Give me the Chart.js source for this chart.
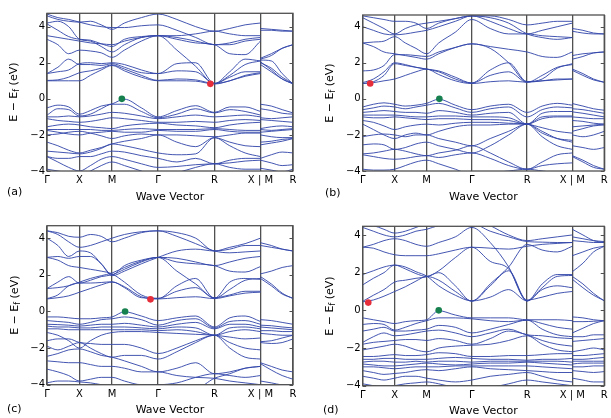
<!DOCTYPE html>
<html>
<head>
<meta charset="utf-8">
<script src="https://cdn.jsdelivr.net/npm/chart.js@4.4.1/dist/chart.umd.min.js"></script>
<style>
    html, body { margin: 0; padding: 0; background: #fff; }
    #wrap { position: relative; width: 611px; height: 418px; }
    #wrap canvas { position: absolute; left: 0; top: 0; }
</style>
</head>
<body>
<div id="wrap">
    <canvas id="panel_a" width="611" height="418"></canvas>
    <canvas id="panel_b" width="611" height="418"></canvas>
    <canvas id="panel_c" width="611" height="418"></canvas>
    <canvas id="panel_d" width="611" height="418"></canvas>
</div>
<script>
// K-PATH: Γ X M Γ R X | M R (sample points along the path)
const kPts = [0, 0.1667, 0.3333, 0.5, 0.6667, 0.8333, 1.0, 1.19, 1.45, 1.7071, 1.9958, 2.2845, 2.5731, 2.8088, 3.0445, 3.2802, 3.2802, 3.4469, 3.6135, 3.7802];
const kTicks = [0, 0.5, 1.0, 1.7071, 2.5731, 3.2802, 3.7802];
const kLabels = ['Γ', 'X', 'M', 'Γ', 'R', 'X | M', 'R'];
const yTicks = [-4, -2, 0, 2, 4];

// BANDS (eV), one row per band, values at kPts
const bandsA = [
    [1.00,1.00,1.00,1.00,1.30,1.60,1.85,1.55,1.20,1.00,1.00,0.98,0.82,1.00,1.25,1.40, 1.90,1.50,1.10,0.82],
    [1.02,1.05,1.20,1.45,1.55,1.70,1.88,1.65,1.30,1.02,1.10,1.05,0.85,1.30,1.90,2.10, 2.00,1.70,1.20,0.85],
    [1.40,1.75,2.20,1.90,1.90,1.85,1.95,1.75,1.45,1.40,1.55,1.50,0.85,1.00,1.30,1.45, 2.20,2.40,2.80,3.00],
    [1.40,1.50,1.60,1.95,2.00,1.95,2.00,1.90,1.60,1.40,1.95,2.00,0.85,1.50,2.20,2.10, 2.15,2.10,1.40,0.82],
    [3.30,3.00,2.50,2.70,2.65,2.55,2.30,2.70,3.20,3.50,2.70,1.80,0.85,1.20,1.50,1.50, 3.80,3.80,3.75,3.75],
    [3.50,3.40,3.30,3.20,3.10,3.05,3.00,3.20,3.40,3.50,3.30,3.10,3.00,2.50,2.45,3.20, 2.25,2.50,2.80,3.00],
    [4.15,3.80,3.45,3.30,3.25,3.05,2.90,3.30,3.45,3.50,3.50,3.60,3.75,3.60,3.50,3.50, 3.90,3.85,3.80,3.75],
    [4.60,4.40,4.30,4.25,4.30,4.10,3.85,4.20,4.50,4.70,4.40,4.00,3.75,3.90,4.10,4.20, 4.90,4.90,4.90,4.90],
    [4.70,4.50,4.40,4.25,4.10,4.00,3.95,3.95,4.05,4.10,3.80,3.40,3.00,3.10,3.30,3.40, 5.00,5.00,5.00,5.00],
    [4.20,4.30,4.00,3.30,3.20,2.90,2.60,3.00,3.40,3.50,3.40,3.20,3.00,3.00,3.20,3.30, 2.05,1.60,1.10,0.85],
    [-0.50,-0.35,-0.45,-0.85,-0.65,-0.40,-0.28,-0.02,-0.50,-1.00,-0.65,-0.38,-0.75,-0.45,-0.45,-0.70, -0.30,-0.40,-0.60,-0.78],
    [-0.90,-0.55,-0.60,-0.95,-0.85,-0.55,-0.30,-0.30,-0.70,-1.05,-0.85,-0.55,-0.78,-0.60,-0.70,-0.90, -0.55,-0.65,-0.80,-0.85],
    [-1.00,-1.00,-0.95,-1.00,-0.95,-0.85,-0.75,-0.80,-0.95,-1.10,-1.00,-0.90,-1.00,-0.95,-0.90,-1.00, -1.05,-1.10,-1.05,-1.00],
    [-1.10,-1.20,-1.25,-1.30,-1.25,-1.15,-1.05,-1.10,-1.20,-1.30,-1.30,-1.25,-1.30,-1.20,-1.15,-1.20, -1.15,-1.20,-1.25,-1.30],
    [-1.55,-1.45,-1.40,-1.45,-1.55,-1.60,-1.65,-1.50,-1.40,-1.35,-1.45,-1.50,-1.60,-1.45,-1.35,-1.30, -1.65,-1.55,-1.50,-1.55],
    [-1.70,-1.70,-1.70,-1.70,-1.70,-1.75,-1.75,-1.70,-1.65,-1.70,-1.70,-1.70,-1.65,-1.70,-1.75,-1.75, -1.70,-1.75,-1.70,-1.65],
    [-1.75,-1.85,-1.95,-2.00,-1.90,-1.85,-1.80,-1.85,-1.85,-1.75,-1.80,-1.80,-1.70,-1.80,-1.85,-1.85, -1.85,-1.80,-1.75,-1.70],
    [-2.00,-1.95,-1.85,-1.80,-1.90,-2.05,-2.20,-2.05,-1.95,-2.00,-2.00,-2.05,-2.10,-2.00,-1.90,-1.90, -2.00,-2.10,-2.15,-2.15],
    [-2.40,-2.60,-2.85,-3.00,-2.85,-2.70,-2.50,-2.35,-2.20,-2.00,-2.40,-2.65,-2.15,-2.40,-2.60,-2.65, -2.40,-2.35,-2.25,-2.20],
    [-2.90,-2.95,-3.00,-3.05,-2.95,-2.75,-2.50,-2.60,-2.80,-3.00,-3.10,-3.05,-2.15,-2.60,-3.00,-3.20, -2.55,-2.45,-2.35,-2.20],
    [-3.20,-3.30,-3.30,-3.20,-3.20,-3.05,-2.90,-2.95,-3.15,-3.30,-3.50,-3.30,-3.60,-3.40,-3.30,-3.30, -3.30,-3.10,-2.95,-3.00],
    [-3.20,-3.50,-3.80,-4.00,-3.70,-3.35,-3.20,-3.35,-3.60,-3.80,-3.75,-3.65,-3.60,-3.55,-3.45,-3.40, -3.40,-3.55,-3.70,-3.65],
    [-3.90,-4.00,-4.10,-4.20,-4.00,-3.70,-3.50,-3.70,-4.00,-4.30,-4.10,-3.80,-3.60,-3.80,-3.90,-3.90, -3.85,-3.95,-4.05,-3.90]
];

const bandsB = [
    [0.85,0.90,1.00,1.10,1.30,1.50,1.65,1.35,1.00,0.85,0.95,1.00,0.92,1.00,1.05,1.10, 1.65,1.40,1.10,0.92],
    [0.85,0.95,1.30,1.95,1.85,1.75,1.65,1.55,1.20,0.88,1.30,1.50,0.92,1.30,1.75,1.90, 1.58,1.30,1.05,0.92],
    [0.90,1.10,1.50,2.00,1.90,1.75,1.65,1.50,1.10,0.88,1.60,2.00,0.95,1.10,1.70,1.95, 2.20,2.35,2.55,2.60],
    [1.55,1.60,1.85,2.45,2.45,2.40,2.35,2.60,2.85,3.05,2.80,2.00,0.95,1.00,1.10,1.10, 2.40,2.50,2.55,2.60],
    [3.10,2.90,2.60,2.50,2.40,2.30,2.20,2.50,2.85,3.05,2.90,2.75,2.60,2.35,2.30,2.60, 3.75,3.65,3.60,3.60],
    [3.10,3.15,3.20,3.45,3.10,2.80,2.50,3.10,3.70,4.40,3.90,3.60,3.60,3.50,3.45,3.40, 3.90,3.80,3.65,3.60],
    [4.00,3.80,3.60,3.55,3.60,3.70,3.80,4.00,4.30,4.60,4.30,3.90,3.60,3.80,4.00,4.20, 4.80,4.80,4.80,4.80],
    [4.60,4.50,4.40,4.30,4.30,4.20,3.90,4.20,4.45,4.60,4.50,4.20,3.60,3.40,3.30,3.40, 5.00,5.00,5.00,5.00],
    [4.50,4.20,3.90,3.60,3.90,4.10,4.20,4.30,4.45,4.60,4.60,4.40,4.10,4.20,4.30,4.30, 5.00,5.00,5.00,5.00],
    [-0.45,-0.30,-0.22,-0.30,-0.40,-0.35,-0.25,-0.02,-0.35,-0.60,-0.40,-0.30,-0.75,-0.40,-0.25,-0.35, -0.26,-0.40,-0.55,-0.63],
    [-0.60,-0.50,-0.40,-0.45,-0.55,-0.45,-0.35,-0.25,-0.50,-0.75,-0.55,-0.45,-1.00,-0.60,-0.45,-0.50, -0.55,-0.60,-0.70,-0.80],
    [-0.75,-0.70,-0.65,-0.70,-0.75,-0.75,-0.80,-0.65,-0.75,-0.90,-0.80,-0.75,-1.40,-0.80,-0.70,-0.70, -0.72,-0.80,-0.90,-1.00],
    [-0.90,-0.90,-0.90,-0.90,-0.95,-1.00,-1.00,-0.95,-0.95,-1.00,-1.00,-1.05,-1.40,-1.00,-0.95,-0.95, -1.00,-1.05,-1.10,-1.10],
    [-1.00,-1.05,-1.05,-1.00,-1.05,-1.10,-1.15,-1.10,-1.10,-1.15,-1.15,-1.20,-1.40,-1.10,-1.00,-1.00, -1.20,-1.25,-1.35,-1.40],
    [-1.20,-1.30,-1.50,-1.70,-1.55,-1.45,-1.40,-1.45,-1.35,-1.30,-1.30,-1.35,-1.40,-1.60,-1.80,-1.90, -1.55,-1.50,-1.45,-1.40],
    [-1.40,-1.70,-2.00,-2.20,-2.00,-1.90,-2.00,-1.80,-1.55,-1.45,-1.45,-1.40,-1.40,-1.90,-2.20,-2.30, -1.80,-1.65,-1.50,-1.45],
    [-2.10,-2.00,-1.95,-2.00,-2.10,-2.00,-2.00,-2.20,-2.40,-2.60,-2.20,-1.80,-1.40,-2.10,-2.60,-2.80, -2.00,-2.10,-2.00,-1.80],
    [-2.55,-2.50,-2.55,-2.80,-2.70,-2.50,-2.40,-2.60,-2.80,-3.00,-2.60,-2.00,-1.40,-1.80,-2.20,-2.40, -2.60,-2.70,-2.80,-2.70],
    [-3.05,-3.00,-2.90,-2.80,-2.90,-3.05,-3.15,-3.00,-2.85,-2.60,-3.00,-3.50,-3.90,-3.50,-3.10,-3.00, -3.15,-3.40,-3.70,-3.90],
    [-3.10,-3.20,-3.30,-3.35,-3.30,-3.20,-3.15,-3.25,-3.10,-3.00,-3.30,-3.70,-3.90,-3.70,-3.60,-3.55, -3.20,-3.50,-3.80,-3.90],
    [-3.90,-3.95,-3.95,-3.90,-3.70,-3.50,-3.40,-3.60,-3.90,-4.20,-4.10,-4.00,-3.90,-4.00,-4.10,-4.20, -4.20,-4.20,-4.20,-4.20]
];

const bandsC = [
    [0.68,0.75,0.85,1.05,1.25,1.45,1.60,1.35,0.80,0.68,0.75,0.80,0.70,0.85,1.00,1.05, 1.90,1.50,1.00,0.70],
    [0.70,0.90,1.40,1.55,1.55,1.58,1.62,1.30,0.75,0.72,1.10,1.30,0.72,1.20,1.70,1.80, 1.80,1.40,0.95,0.72],
    [1.25,1.60,1.90,1.55,1.70,1.90,2.00,2.30,2.70,2.95,2.20,1.50,0.75,0.90,1.10,1.10, 2.05,2.20,2.40,2.50],
    [1.25,1.30,1.40,1.60,1.80,1.95,2.10,2.40,2.75,2.95,2.70,2.60,2.50,2.20,2.15,2.45, 3.75,3.60,3.40,3.30],
    [2.95,2.80,2.50,2.40,2.30,2.20,2.05,1.60,0.90,0.70,1.40,1.80,0.72,1.60,1.80,1.75, 3.60,3.50,3.40,3.30],
    [2.95,3.00,2.90,3.00,3.00,2.60,2.00,2.50,2.80,2.95,2.90,2.70,2.50,2.70,2.90,3.00, 4.90,4.90,4.90,4.90],
    [4.00,3.60,3.00,3.30,3.20,2.60,1.95,2.20,2.60,2.95,3.30,3.40,3.30,3.50,3.70,4.00, 5.00,5.00,5.00,5.00],
    [4.40,4.30,4.10,4.05,4.20,4.10,3.80,4.00,4.30,4.40,4.10,3.70,3.30,3.20,3.25,3.30, 5.00,5.00,5.00,5.00],
    [4.40,4.20,3.80,3.50,3.60,3.80,4.00,4.20,4.35,4.40,4.30,4.00,3.30,3.40,3.60,3.60, 5.00,5.00,5.00,5.00],
    [-0.30,-0.30,-0.35,-0.40,-0.40,-0.35,-0.30,-0.02,-0.25,-0.50,-0.35,-0.25,-0.85,-0.35,-0.25,-0.55, -0.45,-0.50,-0.60,-0.70],
    [-0.50,-0.55,-0.60,-0.70,-0.60,-0.45,-0.40,-0.30,-0.45,-0.75,-0.50,-0.40,-0.90,-0.55,-0.50,-0.70, -0.75,-0.78,-0.85,-0.90],
    [-0.70,-0.72,-0.75,-0.80,-0.75,-0.70,-0.70,-0.65,-0.75,-0.85,-0.70,-0.60,-0.95,-0.70,-0.70,-0.85, -0.85,-0.90,-0.95,-1.00],
    [-0.80,-0.85,-0.85,-0.90,-0.90,-0.85,-0.85,-0.85,-0.90,-0.95,-0.85,-0.90,-1.30,-0.90,-0.85,-0.95, -1.05,-1.05,-1.10,-1.10],
    [-0.95,-0.95,-1.00,-1.00,-1.00,-1.00,-1.00,-1.00,-1.00,-1.05,-1.00,-1.10,-1.30,-1.10,-1.00,-1.10, -1.20,-1.25,-1.30,-1.30],
    [-1.15,-1.30,-1.60,-2.00,-1.60,-1.30,-1.15,-1.10,-1.10,-1.15,-1.20,-1.25,-1.30,-1.40,-1.50,-1.45, -1.65,-1.60,-1.45,-1.30],
    [-1.60,-1.50,-1.50,-1.70,-1.75,-1.80,-1.80,-1.80,-2.00,-2.30,-2.00,-1.60,-1.30,-1.70,-2.00,-2.10, -1.70,-1.75,-1.70,-1.50],
    [-1.90,-2.10,-1.90,-1.70,-2.00,-2.30,-2.50,-2.40,-2.40,-2.60,-2.20,-1.70,-1.30,-2.00,-2.50,-2.60, -2.80,-3.00,-3.20,-3.30],
    [-2.45,-2.30,-2.10,-2.05,-2.20,-2.40,-2.50,-2.70,-3.00,-3.30,-3.10,-2.80,-3.40,-3.30,-3.10,-3.00, -2.85,-3.20,-3.50,-3.70],
    [-2.70,-2.75,-2.80,-2.80,-2.90,-3.00,-3.00,-3.10,-3.30,-3.30,-3.50,-3.60,-3.65,-3.80,-3.90,-4.00, -3.80,-3.90,-4.00,-4.00],
    [-3.15,-3.30,-3.50,-3.80,-3.70,-3.60,-3.60,-3.80,-4.00,-4.00,-3.90,-3.60,-3.40,-3.50,-3.60,-3.50, -4.20,-4.20,-4.20,-4.20],
    [-3.90,-3.80,-3.80,-3.85,-3.90,-4.00,-4.10,-4.20,-4.10,-4.00,-4.10,-4.20,-3.65,-3.40,-3.10,-3.00, -4.30,-4.30,-4.30,-4.30]
];

const bandsD = [
    [0.45,0.55,0.75,1.00,1.25,1.55,1.80,1.60,1.00,0.50,0.70,1.10,0.50,1.10,1.30,1.20, 1.80,1.40,0.90,0.50],
    [0.48,0.80,1.10,1.50,1.60,1.70,1.78,2.00,1.30,0.48,1.30,2.10,0.50,1.40,1.90,1.90, 1.65,1.20,0.80,0.52],
    [1.35,1.70,2.00,2.40,2.20,1.95,1.80,2.10,2.80,3.35,2.60,2.20,0.55,0.70,0.90,1.00, 2.05,2.50,3.10,3.40],
    [1.90,2.10,2.30,2.40,2.30,2.05,1.82,1.30,0.80,0.50,1.40,2.30,3.50,3.20,3.10,3.40, 2.90,3.10,3.30,3.40],
    [3.35,3.30,3.10,2.95,2.90,2.90,2.90,3.00,3.20,3.35,3.30,3.25,3.40,3.50,3.55,3.60, 3.70,3.65,3.60,3.60],
    [3.35,3.50,3.70,3.80,3.70,3.50,3.40,3.60,3.90,4.40,3.60,2.30,0.50,1.20,1.80,1.85, 3.90,3.80,3.70,3.65],
    [4.40,4.20,4.00,3.90,4.00,4.20,4.30,4.50,4.60,4.60,4.20,3.90,3.65,3.62,3.60,3.60, 4.30,4.00,3.70,3.60],
    [4.60,4.50,4.30,4.10,4.20,4.40,4.60,4.80,5.00,5.00,4.50,4.00,3.70,3.80,3.90,4.00, 5.00,5.00,5.00,5.00],
    [-0.40,-0.50,-0.60,-0.70,-0.60,-0.55,-0.50,-0.02,-0.25,-0.40,-0.40,-0.40,-0.50,-0.50,-0.50,-0.55, -0.35,-0.40,-0.50,-0.55],
    [-0.75,-0.70,-0.75,-1.05,-0.90,-0.70,-0.55,-0.40,-0.40,-0.45,-0.55,-0.60,-0.52,-0.70,-0.90,-1.00, -0.60,-0.60,-0.58,-0.55],
    [-1.10,-1.00,-0.90,-1.10,-1.10,-1.05,-1.00,-0.80,-0.90,-1.20,-1.00,-0.75,-0.52,-1.00,-1.30,-1.40, -1.20,-0.95,-0.70,-0.55],
    [-1.70,-1.40,-1.20,-1.35,-1.30,-1.20,-1.10,-1.05,-1.20,-1.40,-1.20,-1.00,-1.30,-1.35,-1.45,-1.50, -1.40,-1.40,-1.30,-1.30],
    [-1.80,-1.70,-1.65,-1.60,-1.55,-1.55,-1.60,-1.50,-1.60,-1.80,-1.50,-1.10,-1.30,-1.60,-1.80,-1.90, -1.65,-1.60,-1.55,-1.50],
    [-2.10,-2.00,-1.90,-1.80,-1.90,-2.10,-2.20,-2.00,-1.90,-1.85,-1.80,-1.60,-1.35,-1.80,-2.10,-2.20, -2.20,-2.10,-2.00,-2.10],
    [-2.45,-2.45,-2.40,-2.35,-2.40,-2.40,-2.35,-2.25,-2.30,-2.45,-2.45,-2.40,-2.40,-2.35,-2.30,-2.30, -2.40,-2.40,-2.35,-2.30],
    [-2.60,-2.60,-2.55,-2.55,-2.60,-2.60,-2.60,-2.55,-2.50,-2.55,-2.60,-2.60,-2.65,-2.60,-2.60,-2.55, -2.60,-2.60,-2.55,-2.50],
    [-2.75,-2.70,-2.70,-2.75,-2.75,-2.70,-2.75,-2.70,-2.70,-2.75,-2.70,-2.70,-2.70,-2.70,-2.70,-2.75, -2.70,-2.70,-2.70,-2.70],
    [-2.85,-2.90,-2.95,-2.95,-2.90,-2.85,-2.80,-2.85,-2.90,-2.85,-2.80,-2.80,-2.75,-2.80,-2.85,-2.90, -2.85,-2.80,-2.80,-2.80],
    [-3.00,-3.00,-3.05,-3.10,-3.05,-3.00,-3.00,-3.00,-2.95,-2.95,-2.95,-2.95,-2.95,-3.00,-3.05,-3.10, -3.00,-3.00,-2.95,-2.95],
    [-3.20,-3.30,-3.40,-3.35,-3.30,-3.20,-3.15,-3.20,-3.10,-3.00,-3.10,-3.15,-3.20,-3.25,-3.30,-3.30, -3.20,-3.25,-3.30,-3.25],
    [-3.50,-3.60,-3.70,-3.60,-3.50,-3.50,-3.60,-3.70,-3.80,-3.70,-3.50,-3.40,-3.30,-3.50,-3.70,-3.80, -3.60,-3.70,-3.80,-3.80],
    [-3.90,-4.00,-4.10,-4.00,-3.90,-3.85,-3.80,-3.90,-4.10,-4.20,-4.10,-3.90,-3.70,-3.80,-3.90,-4.00, -4.10,-4.10,-4.10,-4.10]
];

// CBM (red) and VBM (green) markers: [k, E]
const cbmPts = [[2.51, 0.83], [0.117, 0.85], [1.59, 0.66], [0.087, 0.41]];
const vbmPts = [[1.15, 0], [1.20, 0], [1.20, 0], [1.19, 0]];
const panelNames = ['(a)', '(b)', '(c)', '(d)'];
const yMaxes = [4.74, 4.65, 4.68, 4.46];


// LAYOUT (page pixels of each plot frame)
const panels = [
    { id: 'panel_a', bands: bandsA, left: 47,    top: 13.3,  right: 293,   bottom: 171,   titleX: 14,  labelX: 7,   labelY: 192 },
    { id: 'panel_b', bands: bandsB, left: 362.7, top: 15,    right: 607.5, bottom: 171,   titleX: 330, labelX: 325, labelY: 193 },
    { id: 'panel_c', bands: bandsC, left: 47,    top: 225.7, right: 293,   bottom: 384.7, titleX: 15,  labelX: 7,   labelY: 409 },
    { id: 'panel_d', bands: bandsD, left: 362.7, top: 226.3, right: 607.5, bottom: 385.7, titleX: 330, labelX: 323, labelY: 410.5 }
];

const Y_AXIS_W = 47;
const X_AXIS_H = 36;
const FONT = 'DejaVu Sans';
const LINE_COLOR = 'rgba(52, 72, 170, 0.92)';
const FRAME_COLOR = '#505050';

Chart.defaults.font.family = FONT;
Chart.defaults.color = '#000';


function bandPoints(band) {
    const pts = [];
    for (let i = 0; i < kPts.length; i++) {
        if (i === 16) pts.push({ x: kPts[15], y: null });  // break at X | M
        pts.push({ x: kPts[i], y: band[i] });
    }
    return pts;
}

function minusLabel(v) {
    return v < 0 ? '\u2212' + Math.abs(v) : String(v);
}


// FRAME, INWARD TICKS, Y TITLE WITH SUBSCRIPT, PANEL LETTER
const decorPlugin = {
    id: 'decor',
    afterDraw(chart, args, opts) {
        const ctx = chart.ctx;
        const area = chart.chartArea;
        const yScale = chart.scales.y;

        ctx.save();
        ctx.strokeStyle = FRAME_COLOR;
        ctx.lineWidth = 1.3;
        ctx.strokeRect(area.left, area.top, area.right - area.left, area.bottom - area.top);

        ctx.lineWidth = 1;
        yTicks.forEach(v => {
            const py = Math.round(yScale.getPixelForValue(v)) + 0.5;
            ctx.beginPath();
            ctx.moveTo(area.left, py);
            ctx.lineTo(area.left + 3.5, py);
            ctx.moveTo(area.right, py);
            ctx.lineTo(area.right - 3.5, py);
            ctx.stroke();
        });

        // y title: E − E_f (eV)
        const big = '11px "' + FONT + '"';
        const small = '8px "' + FONT + '"';
        const parts = [['E \u2212 E', big, 0], ['f', small, 2.5], [' (eV)', big, 0]];
        let total = 0;
        parts.forEach(p => { ctx.font = p[1]; total += ctx.measureText(p[0]).width; });
        ctx.translate(opts.titleX, (area.top + area.bottom) / 2);
        ctx.rotate(-Math.PI / 2);
        ctx.fillStyle = '#000';
        ctx.textBaseline = 'middle';
        ctx.textAlign = 'left';
        let x = -total / 2;
        parts.forEach(p => {
            ctx.font = p[1];
            ctx.fillText(p[0], x, p[2]);
            x += ctx.measureText(p[0]).width;
        });
        ctx.restore();

        ctx.save();
        ctx.font = '11px "' + FONT + '"';
        ctx.fillStyle = '#000';
        ctx.textBaseline = 'middle';
        ctx.textAlign = 'left';
        ctx.fillText(opts.label, opts.labelX, opts.labelY);
        ctx.restore();
    }
};


// BUILD THE FOUR PANELS
panels.forEach((p, idx) => {

    const datasets = [
        {
            data: [{ x: cbmPts[idx][0], y: cbmPts[idx][1] }],
            pointRadius: 3.3, pointBackgroundColor: 'rgb(230, 45, 58)', pointBorderWidth: 0
        },
        {
            data: [{ x: vbmPts[idx][0], y: vbmPts[idx][1] }],
            pointRadius: 3.3, pointBackgroundColor: 'rgb(22, 128, 78)', pointBorderWidth: 0
        }
    ];

    p.bands.forEach(band => {
        datasets.push({
            data: bandPoints(band),
            showLine: true,
            pointRadius: 0,
            borderColor: LINE_COLOR,
            borderWidth: 1,
            cubicInterpolationMode: 'monotone',
            spanGaps: false
        });
    });

    const config = {
        type: 'scatter',
        data: { datasets: datasets },
        options: {
            responsive: false,
            animation: false,
            events: [],
            layout: {
                padding: {
                    left: p.left - Y_AXIS_W,
                    top: p.top,
                    right: 611 - p.right,
                    bottom: 418 - p.bottom - X_AXIS_H
                }
            },
            plugins: {
                legend: { display: false },
                tooltip: { enabled: false },
                decor: { titleX: p.titleX, label: panelNames[idx], labelX: p.labelX, labelY: p.labelY }
            },
            scales: {
                x: {
                    type: 'linear',
                    min: 0,
                    max: kTicks[kTicks.length - 1],
                    afterBuildTicks: scale => { scale.ticks = kTicks.map(v => ({ value: v })); },
                    afterFit: scale => { scale.height = X_AXIS_H; },
                    ticks: {
                        autoSkip: false,
                        maxRotation: 0,
                        padding: 3.3,
                        font: { size: 10 },
                        callback: (v, i) => kLabels[i]
                    },
                    grid: { color: FRAME_COLOR, lineWidth: 1.3, drawTicks: false },
                    border: { display: false },
                    title: {
                        display: true,
                        text: 'Wave Vector',
                        font: { size: 11 },
                        padding: { top: 0, bottom: 3.6 }
                    }
                },
                y: {
                    min: -4,
                    max: yMaxes[idx],
                    afterBuildTicks: scale => { scale.ticks = yTicks.map(v => ({ value: v })); },
                    afterFit: scale => { scale.width = Y_AXIS_W; },
                    ticks: {
                        padding: 2,
                        font: { size: 10 },
                        callback: v => minusLabel(v)
                    },
                    grid: { display: false, drawTicks: false },
                    border: { display: false }
                }
            }
        },
        plugins: [decorPlugin]
    };

    new Chart(document.getElementById(p.id), config);
});
</script>
</body>
</html>
